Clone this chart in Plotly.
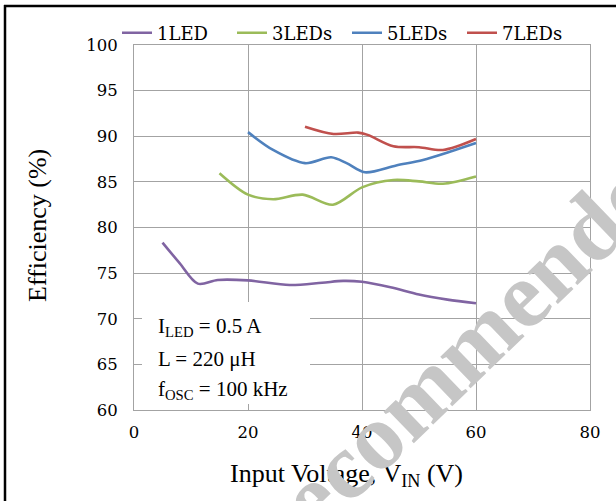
import plotly.graph_objects as go

# Efficiency vs. input voltage for different LED string lengths
vin_1led = [5, 8, 11.2, 14.7, 20, 27.3, 33, 36.7, 40, 45, 50, 55, 60]
eff_1led = [78.35, 76.1, 73.85, 74.25, 74.2, 73.7, 73.95, 74.15, 74.05, 73.45, 72.65, 72.1, 71.7]

vin_3led = [15, 20, 24.4, 29.6, 34.9, 40, 45.5, 50, 54.2, 60]
eff_3led = [85.95, 83.6, 83.1, 83.6, 82.5, 84.4, 85.2, 85.05, 84.8, 85.6]

vin_5led = [20, 24.4, 30, 34.6, 37.3, 40.5, 46, 50.7, 55.4, 60]
eff_5led = [90.45, 88.5, 87.05, 87.7, 87.05, 86.05, 86.8, 87.4, 88.3, 89.25]

vin_7led = [30, 35, 39.3, 41, 45.5, 50, 54.2, 60]
eff_7led = [91.05, 90.25, 90.4, 90.15, 88.9, 88.8, 88.5, 89.7]

series_names = ["1LED", "3LEDs", "5LEDs", "7LEDs"]
series_colors = ["#8064A2", "#9BBB59", "#4F81BD", "#C0504D"]

x_ticks = [0, 20, 40, 60, 80]
y_ticks = [60, 65, 70, 75, 80, 85, 90, 95, 100]

W, H = 616, 501
L, R, T, B = 134, 26, 45, 91
pw, ph = W - L - R, H - T - B


def px(xp):
    return (xp - L) / pw


def py(yp):
    return 1 - (yp - T) / ph


GRID = "#a3a3a3"
serif_tick = "DejaVu Serif"
serif_text = "Liberation Serif"

fig = go.Figure()
for xs, ys, name, col in zip(
    [vin_1led, vin_3led, vin_5led, vin_7led],
    [eff_1led, eff_3led, eff_5led, eff_7led],
    series_names,
    series_colors,
):
    fig.add_trace(
        go.Scatter(
            x=xs, y=ys, name=name, mode="lines",
            line=dict(color=col, width=2.6, shape="spline", smoothing=0.9),
        )
    )


def note(text, xp, yp, size, anchor="center", **kw):
    return dict(text=text, x=px(xp), y=py(yp), xref="paper", yref="paper",
                xanchor=anchor, yanchor="middle", showarrow=False,
                font=dict(family=kw.pop("family", serif_text), size=size,
                          color=kw.pop("color", "#000")), **kw)


annotations = [
    note("Efficiency (%)", 37, 226, 26, textangle=-90),
    note("Input Voltage, V<sub>IN</sub> (V)", 346, 475, 26),
    note("I<sub>LED</sub> = 0.5 A", 156, 327, 21, anchor="left"),
    note("L = 220 μH", 156, 359, 21, anchor="left"),
    note("f<sub>OSC</sub> = 100 kHz", 156, 390, 21, anchor="left"),
    # diagonal status stamp across the page
    note("<b>Recommended</b>", 462, 352, 95, textangle=-44, color="#c6c6c6"),
]

shapes = [
    # white panel behind the operating-condition notes
    dict(type="rect", xref="paper", yref="paper", x0=px(142), x1=px(310), y0=py(404), y1=py(302),
         fillcolor="white", line=dict(width=0), layer="above"),
    # page frame (left and top edges)
    dict(type="line", xref="paper", yref="paper", x0=px(5), x1=px(5), y0=py(5), y1=py(520),
         line=dict(color="black", width=2.5)),
    dict(type="line", xref="paper", yref="paper", x0=px(4), x1=px(640), y0=py(6), y1=py(6),
         line=dict(color="black", width=2.5)),
]

fig.update_layout(
    width=W, height=H,
    margin=dict(l=L, r=R, t=T, b=B),
    paper_bgcolor="white", plot_bgcolor="white",
    showlegend=True,
    legend=dict(
        orientation="h", x=px(117), y=py(33), xanchor="left", yanchor="middle",
        font=dict(family=serif_tick, size=18, color="#000"),
        bgcolor="rgba(0,0,0,0)", entrywidth=70, entrywidthmode="pixels",
        tracegroupgap=0,
    ),
    annotations=annotations,
    shapes=shapes,
)
fig.update_xaxes(
    range=[0, 80], tickvals=x_ticks, ticktext=[str(v) for v in x_ticks],
    showgrid=True, gridcolor=GRID, gridwidth=1,
    showline=True, linecolor=GRID, linewidth=1, mirror=True,
    ticks="outside", ticklen=7, tickcolor="rgba(0,0,0,0)",
    tickfont=dict(family=serif_tick, size=16.5, color="#000"), zeroline=False,
)
fig.update_yaxes(
    range=[60, 100], tickvals=y_ticks, ticktext=[str(v) for v in y_ticks],
    showgrid=True, gridcolor=GRID, gridwidth=1,
    showline=True, linecolor=GRID, linewidth=1, mirror=True,
    ticks="outside", ticklen=12, tickcolor="rgba(0,0,0,0)",
    tickfont=dict(family=serif_tick, size=16.5, color="#000"), zeroline=False,
)

fig.write_html("out.html")
